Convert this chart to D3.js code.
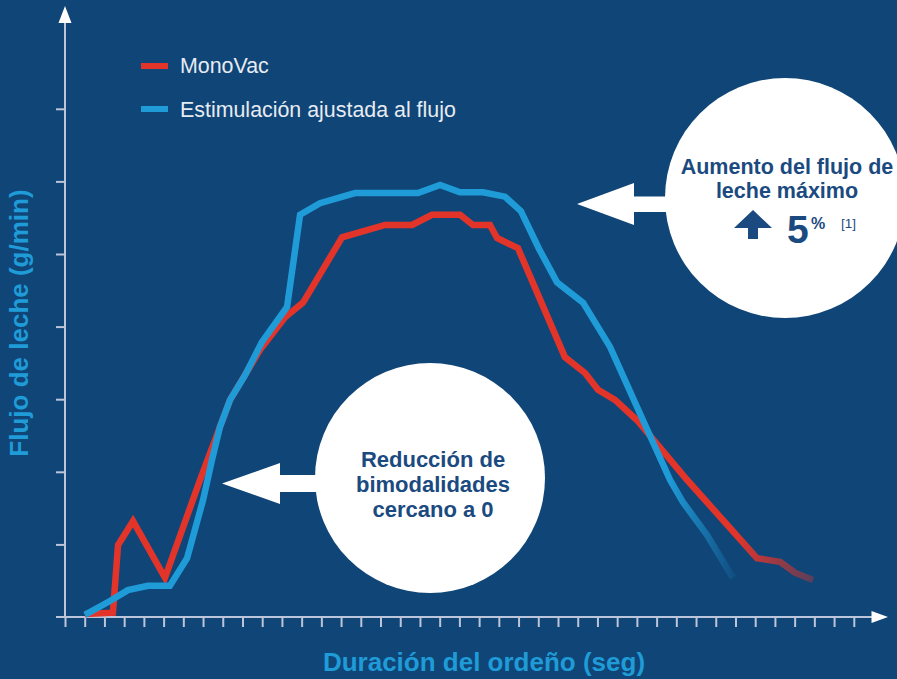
<!DOCTYPE html>
<html>
<head>
<meta charset="utf-8">
<script src="https://cdn.jsdelivr.net/npm/d3@7/dist/d3.min.js"></script>
<style>
  html, body { margin: 0; padding: 0; background: #0f4577; }
  svg { display: block; }
</style>
</head>
<body>
<svg id="chart" width="897" height="679"></svg>
<script>
// ---- Data (x in tick units along the time axis, y in tick units of flow) ----
const xTickValues = [0,1,2,3,4,5,6,7,8,9,10,11,12,13,14,15,16,17,18,19,20,21,22,23,24,25,26,27,28,29,30,31,32,33,34,35,36,37,38,39,40];
const yTickValues = [0,1,2,3,4,5,6,7];

const seriesNames = ["MonoVac", "Estimulación ajustada al flujo"];

const monoVacX = [1.01, 2.43, 2.69, 3.45, 5.07, 6.85, 7.61, 8.37, 9.89, 11.16, 12.07, 14.05, 16.23, 17.60, 18.61, 20.03, 20.69, 21.55, 21.91, 22.97, 25.35, 26.37, 27.03, 27.89, 29.01, 31.54, 35.09, 36.26, 37.02, 37.93];
const monoVacY = [0.04, 0.06, 0.99, 1.32, 0.54, 1.89, 2.44, 2.99, 3.68, 4.13, 4.33, 5.23, 5.40, 5.40, 5.54, 5.54, 5.40, 5.40, 5.22, 5.08, 3.58, 3.36, 3.13, 2.99, 2.71, 1.89, 0.81, 0.76, 0.61, 0.51];

const estimX = [1.01, 2.28, 3.19, 4.21, 5.32, 6.19, 7.00, 7.45, 7.86, 8.37, 9.13, 9.99, 11.26, 11.92, 12.93, 14.71, 17.90, 19.02, 20.03, 21.20, 22.31, 23.12, 24.04, 24.95, 26.27, 27.64, 29.31, 30.68, 31.34, 32.56, 33.87];
const estimY = [0.03, 0.22, 0.37, 0.43, 0.43, 0.81, 1.61, 2.16, 2.62, 2.99, 3.33, 3.79, 4.27, 5.54, 5.70, 5.84, 5.84, 5.95, 5.85, 5.85, 5.79, 5.59, 5.07, 4.61, 4.33, 3.72, 2.71, 1.89, 1.58, 1.13, 0.54];

const axisTitleX = "Duración del ordeño (seg)";
const axisTitleY = "Flujo de leche (g/min)";
const noteRight = ["Aumento del flujo de", "leche máximo"];
const noteRightValue = "5";
const noteRightUnit = "%";
const noteRightRef = "[1]";
const noteLeft = ["Reducción de", "bimodalidades", "cercano a 0"];

// ---- Layout ----
const W = 897, H = 679;
const FONT = "'Liberation Sans', Arial, Helvetica, sans-serif";
const RED = "#e3342a", BLUE = "#1f9bd8", AXIS = "#bcc5d9", NAVY = "#1b4a80";

const svg = d3.select("#chart");
svg.append("rect").attr("width", W).attr("height", H).attr("fill", "#0f4577");

const x = d3.scaleLinear().domain([0, 40]).range([65, 853.8]);
const y = d3.scaleLinear().domain([0, 7]).range([617, 108.8]);

const defs = svg.append("defs");
function fadeGrad(id, color, x0, x1, endOpacity) {
  const g = defs.append("linearGradient").attr("id", id)
    .attr("gradientUnits", "userSpaceOnUse")
    .attr("x1", x(x0)).attr("x2", x(x1)).attr("y1", 0).attr("y2", 0);
  g.append("stop").attr("offset", 0).attr("stop-color", color).attr("stop-opacity", 1);
  g.append("stop").attr("offset", 1).attr("stop-color", color).attr("stop-opacity", endOpacity);
}
fadeGrad("fadeRed", RED, 34.0, 37.93, 0.35);
fadeGrad("fadeBlue", BLUE, 30.6, 33.87, 0.12);

// ---- Axes ----
const xAxis = d3.axisBottom(x).tickValues(xTickValues).tickSize(10).tickFormat("");
const gx = svg.append("g").attr("transform", `translate(0,${y(0)})`).call(xAxis);
gx.select(".domain").remove();
gx.selectAll(".tick line").attr("stroke", AXIS).attr("stroke-width", 2);

const yAxis = d3.axisLeft(y).tickValues(yTickValues.slice(1)).tickSize(9).tickFormat("");
const gy = svg.append("g").attr("transform", `translate(${x(0)},0)`).call(yAxis);
gy.select(".domain").remove();
gy.selectAll(".tick line").attr("stroke", AXIS).attr("stroke-width", 2);

// axis lines with arrows
svg.append("line").attr("x1", x(0) - 9).attr("x2", 874).attr("y1", y(0)).attr("y2", y(0))
  .attr("stroke", AXIS).attr("stroke-width", 2);
svg.append("line").attr("x1", x(0)).attr("x2", x(0)).attr("y1", y(0)).attr("y2", 20)
  .attr("stroke", AXIS).attr("stroke-width", 2);
svg.append("path").attr("d", `M${x(0)},6 L${x(0) + 6.5},23 L${x(0) - 6.5},23 Z`).attr("fill", "#ffffff");
svg.append("path").attr("d", `M888,${y(0)} L871.5,${y(0) - 6} L871.5,${y(0) + 6} Z`).attr("fill", "#ffffff");

// axis titles
svg.append("text").attr("x", 484).attr("y", 671).attr("text-anchor", "middle")
  .attr("font-family", FONT).attr("font-weight", "bold").attr("font-size", 26)
  .attr("fill", BLUE).text(axisTitleX);
svg.append("text").attr("transform", "translate(28,323) rotate(-90)").attr("text-anchor", "middle")
  .attr("font-family", FONT).attr("font-weight", "bold").attr("font-size", 26)
  .attr("fill", BLUE).text(axisTitleY);

// ---- Lines ----
const line = d3.line().x(d => x(d[0])).y(d => y(d[1]));
const redData = monoVacX.map((v, i) => [v, monoVacY[i]]);
const blueData = estimX.map((v, i) => [v, estimY[i]]);

svg.append("path").datum(redData).attr("d", line).attr("fill", "none")
  .attr("stroke", "url(#fadeRed)").attr("stroke-width", 6.5).attr("stroke-linejoin", "miter");
svg.append("path").datum(blueData).attr("d", line).attr("fill", "none")
  .attr("stroke", "url(#fadeBlue)").attr("stroke-width", 6.5).attr("stroke-linejoin", "miter");

// ---- Legend ----
const legend = svg.append("g");
[[RED, 66, 73], [BLUE, 109, 116.5]].forEach(([c, ly, ty], i) => {
  legend.append("line").attr("x1", 141).attr("x2", 168).attr("y1", ly).attr("y2", ly)
    .attr("stroke", c).attr("stroke-width", 6);
  legend.append("text").attr("x", 180).attr("y", ty).attr("font-family", FONT)
    .attr("font-size", 21.4).attr("fill", "#e8ebf2").text(seriesNames[i]);
});

// ---- Right callout ----
svg.append("path")
  .attr("d", "M577,204 L634,183 L634,196.5 L700,196.5 L700,212 L634,212 L634,225 Z")
  .attr("fill", "#ffffff");
svg.append("circle").attr("cx", 785).attr("cy", 198).attr("r", 120).attr("fill", "#ffffff");
noteRight.forEach((t, i) => {
  svg.append("text").attr("x", 787).attr("y", 174 + i * 23.5).attr("text-anchor", "middle")
    .attr("font-family", FONT).attr("font-weight", "bold").attr("font-size", 21.5)
    .attr("fill", NAVY).text(t);
});
svg.append("path")
  .attr("d", "M753,210 L772,228 L758,228 L758,239 L748,239 L748,228 L734,228 Z")
  .attr("fill", NAVY);
svg.append("text").attr("x", 787).attr("y", 243).attr("font-family", FONT)
  .attr("font-weight", "bold").attr("font-size", 39).attr("fill", NAVY).text(noteRightValue);
svg.append("text").attr("x", 811).attr("y", 229).attr("font-family", FONT)
  .attr("font-weight", "bold").attr("font-size", 16).attr("fill", NAVY).text(noteRightUnit);
svg.append("text").attr("x", 841).attr("y", 228).attr("font-family", FONT)
  .attr("font-size", 13.5).attr("fill", NAVY).text(noteRightRef);

// ---- Left callout ----
svg.append("path")
  .attr("d", "M222,483.5 L280,463 L280,475 L340,475 L340,492 L280,492 L280,504 Z")
  .attr("fill", "#ffffff");
svg.append("circle").attr("cx", 430).attr("cy", 478).attr("r", 115).attr("fill", "#ffffff");
noteLeft.forEach((t, i) => {
  svg.append("text").attr("x", 433).attr("y", 467 + i * 25).attr("text-anchor", "middle")
    .attr("font-family", FONT).attr("font-weight", "bold").attr("font-size", 22)
    .attr("fill", NAVY).text(t);
});
</script>
</body>
</html>
